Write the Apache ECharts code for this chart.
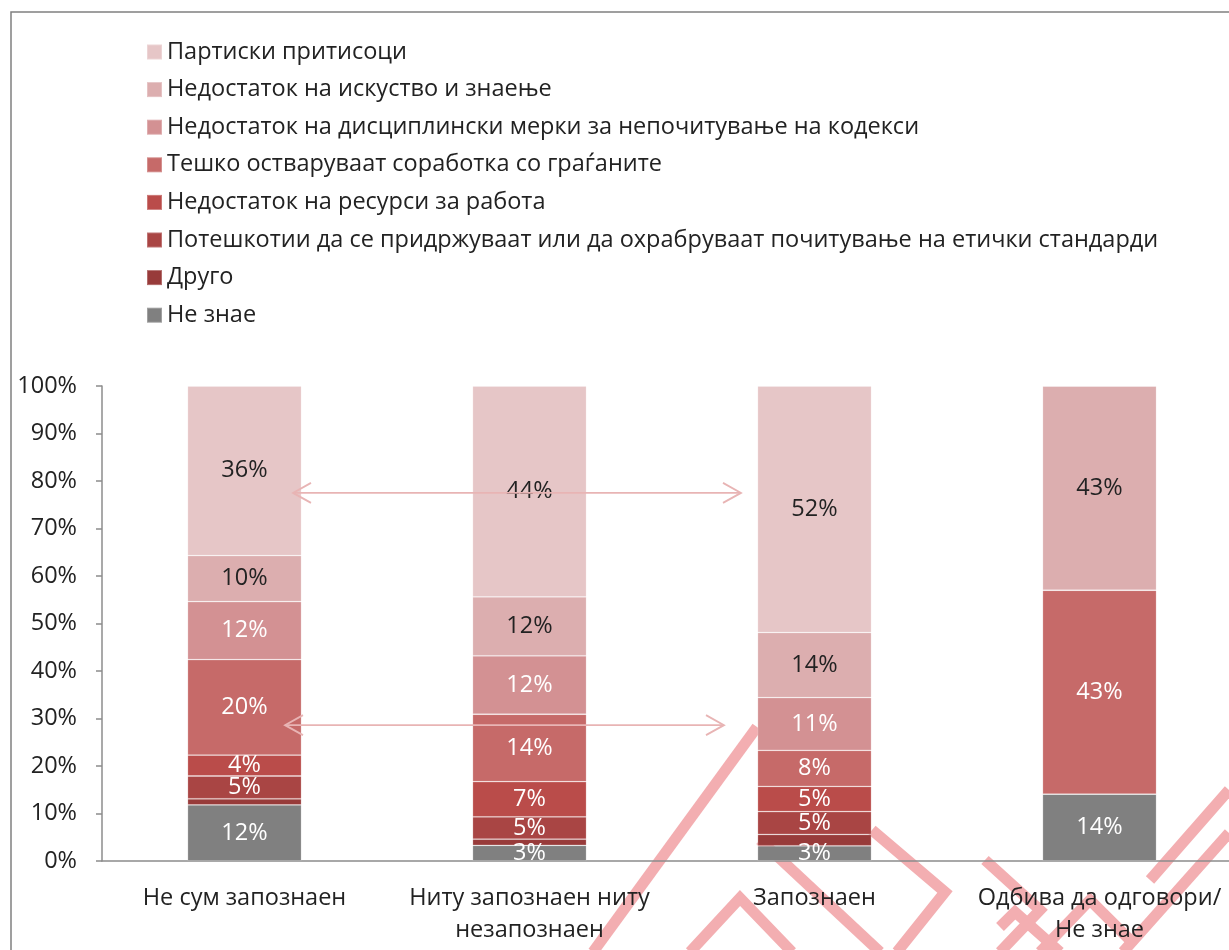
<!DOCTYPE html>
<html>
<head>
<meta charset="utf-8">
<script src="https://cdn.jsdelivr.net/npm/echarts@6/dist/echarts.min.js"></script>
<style>
  html, body { margin: 0; padding: 0; background: #fff; }
  #main { width: 1229px; height: 950px; }
</style>
</head>
<body>
<div id="main"></div>
<script>
// categories (x axis)
const categories = [
  'Не сум запознаен',
  'Ниту запознаен ниту\nнезапознаен',
  'Запознаен',
  'Одбива да одговори/\nНе знае'
];

// series names, bottom of the stack first
const seriesNames = [
  'Не знае',
  'Друго',
  'Потешкотии да се придржуваат или да охрабруваат почитување на етички стандарди',
  'Недостаток на ресурси за работа',
  'Тешко остваруваат соработка со граѓаните',
  'Недостаток на дисциплински мерки за непочитување на кодекси',
  'Недостаток на искуство и знаење',
  'Партиски притисоци'
];
const seriesColors = ['#808080', '#983b3a', '#a94544', '#ba4c4a', '#c66a69', '#d39193', '#dcaeaf', '#e6c6c7'];
const labelColors  = ['#fff', '#fff', '#fff', '#fff', '#fff', '#fff', '#222', '#222'];

// values in %, one array per series, one value per category
const neZnae      = [11.8, 3.3, 3.2, 14.1];
const drugo       = [1.3, 1.3, 2.4, 0];
const poteshkotii = [4.8, 4.7, 4.8, 0];
const resursi     = [4.4, 7.4, 5.3, 0];
const teshko      = [20.1, 14.2, 7.6, 42.9];
const disciplina  = [12.2, 12.3, 11.1, 0];
const iskustvo    = [9.7, 12.4, 13.7, 43];
const partiski    = [35.7, 44.4, 51.9, 0];
const values = [neZnae, drugo, poteshkotii, resursi, teshko, disciplina, iskustvo, partiski];

// y levels (in %) of the two comparison arrows
const arrowLevels = [77.5, 28.6];

const FONT = '"Open Sans"';
const FS = 23.5;
const myChart = echarts.init(document.getElementById('main'));

const series = seriesNames.map((name, i) => ({
  name: name,
  type: 'bar',
  stack: 'total',
  barWidth: 114,
  data: values[i],
  itemStyle: { color: seriesColors[i], borderColor: 'rgba(255,255,255,0.25)', borderWidth: 0.8 },
  label: {
    show: true,
    position: 'inside',
    color: labelColors[i],
    fontFamily: FONT,
    fontSize: FS,
    formatter: p => (p.value >= 3 ? Math.round(p.value) + '%' : '')
  },
  z: 3
}));

// decorative watermark strokes (bottom right of the page)
const stripes = [
  [[593, 952], [757, 727]],
  [[690, 952], [740, 898], [792, 952]],
  [[760, 840], [880, 952]],
  [[872, 830], [945, 892], [897, 952]],
  [[985, 860], [1040, 910], [1000, 952]],
  [[1000, 927], [1015, 912], [1060, 952]],
  [[1123, 952], [1229, 833]],
  [[1150, 880], [1229, 790]],
  [[1040, 952], [1090, 900], [1130, 940]]
];

const option = {
  animation: false,
  backgroundColor: '#fff',
  textStyle: { fontFamily: FONT },
  legend: {
    orient: 'vertical',
    left: 141,
    top: 35,
    itemWidth: 15,
    itemHeight: 15,
    itemGap: 13.6,
    icon: 'rect',
    data: seriesNames.slice().reverse(),
    textStyle: { fontFamily: FONT, fontSize: FS, color: '#222', lineHeight: 24 },
    selectedMode: false
  },
  grid: { left: 102, top: 386, width: 1140, height: 475, outerBoundsMode: 'none', containLabel: false },
  xAxis: {
    type: 'category',
    data: categories,
    axisLine: { lineStyle: { color: '#8c8c8c', width: 1.5 } },
    axisTick: { length: 9, lineStyle: { color: '#8c8c8c', width: 1.5 } },
    axisLabel: { color: '#222', fontFamily: FONT, fontSize: FS, lineHeight: 32, margin: 21, interval: 0 }
  },
  yAxis: {
    type: 'value',
    min: 0,
    max: 100,
    interval: 10,
    splitLine: { show: false },
    axisLine: { show: true, lineStyle: { color: '#8c8c8c', width: 1.5 } },
    axisTick: { show: true, length: 6, lineStyle: { color: '#8c8c8c', width: 1.5 } },
    axisLabel: { color: '#222', fontFamily: FONT, fontSize: FS, margin: 25, formatter: '{value}%' }
  },
  series: series
};

myChart.setOption(option);

// arrows and frame, placed after the axes are laid out
function arrow(x1, x2, y) {
  const c = '#e8b4b4';
  return [
    { type: 'line', z: 10, shape: { x1: x1, y1: y, x2: x2, y2: y }, style: { stroke: c, lineWidth: 1.8 } },
    { type: 'polyline', z: 10, shape: { points: [[x1 + 18, y - 10], [x1, y], [x1 + 18, y + 10]] }, style: { stroke: c, lineWidth: 1.8, fill: null } },
    { type: 'polyline', z: 10, shape: { points: [[x2 - 18, y - 10], [x2, y], [x2 - 18, y + 10]] }, style: { stroke: c, lineWidth: 1.8, fill: null } }
  ];
}

const y1 = myChart.convertToPixel({ yAxisIndex: 0 }, arrowLevels[0]);
const y2 = myChart.convertToPixel({ yAxisIndex: 0 }, arrowLevels[1]);

const elements = []
  .concat(stripes.map(pts => ({
    type: 'polyline', z: -10, silent: true,
    shape: { points: pts },
    style: { stroke: '#f3aeb1', lineWidth: 11, fill: null, lineJoin: 'miter' }
  })))
  .concat(arrow(293, 741, y1))
  .concat(arrow(285, 724, y2))
  .concat([{ type: 'rect', z: 20, silent: true, shape: { x: 11, y: 12, width: 1400, height: 1100 }, style: { stroke: '#808080', lineWidth: 1.5, fill: null } }]);

myChart.setOption({ graphic: { elements: elements } });
</script>
</body>
</html>
